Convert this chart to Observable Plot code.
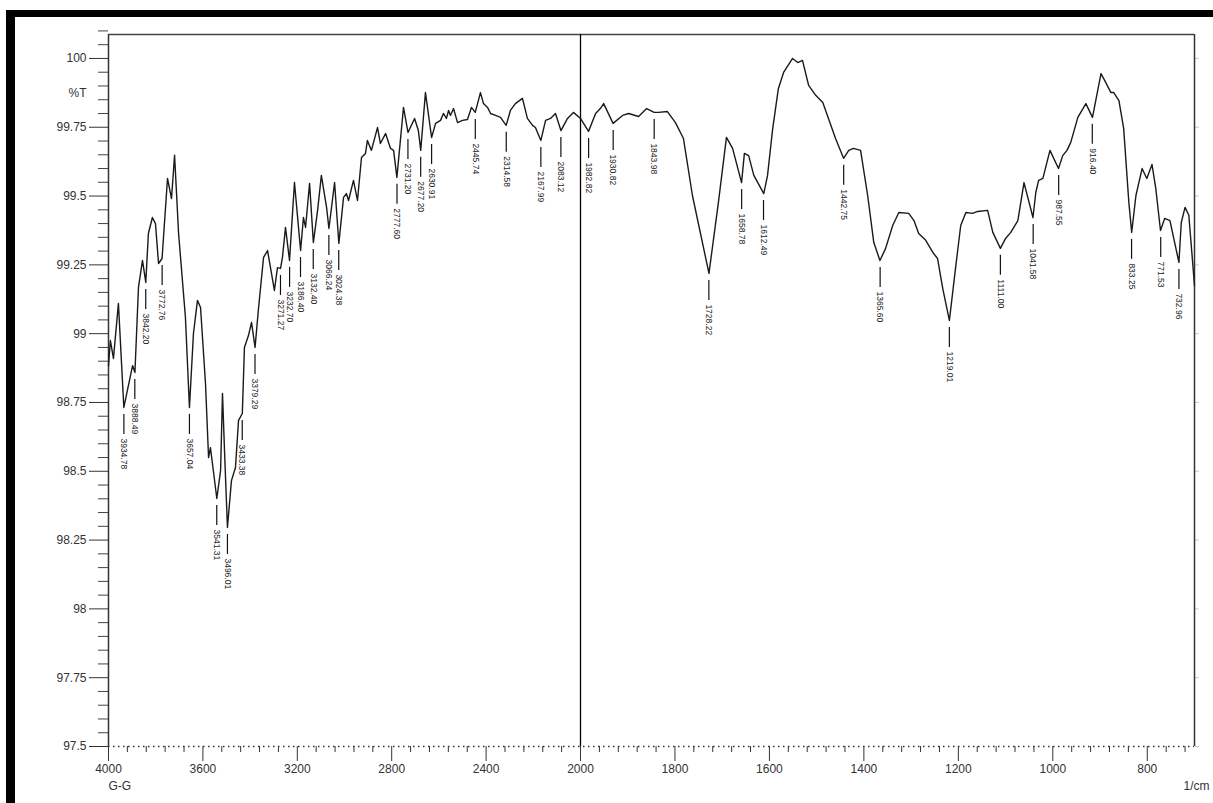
<!DOCTYPE html>
<html><head><meta charset="utf-8">
<script src="https://cdn.jsdelivr.net/npm/d3@7"></script>
<script src="https://cdn.jsdelivr.net/npm/@observablehq/plot@0.6"></script>
<style>
body{margin:0;background:#fff;}
#wrap{position:relative;width:1213px;height:803px;overflow:hidden;background:#fff;}
#chart{position:absolute;left:0;top:0;}
#border{position:absolute;left:6px;top:10px;width:1207px;height:800px;border-top:7px solid #000;border-left:9px solid #000;pointer-events:none;}
</style></head><body>
<div id="wrap"><div id="chart"></div><div id="border"></div></div>
<script>
// Spectrum (wavenumber in 1/cm, %T)
const wavenumber = [4000,3992,3979,3958,3935,3898,3888,3873,3856,3842,3831,3814,3801,3788,3773,3750,3733,3720,3703,3674,3657,3640,3623,3610,3589,3576,3568,3541,3525,3517,3508,3496,3479,3462,3449,3433,3424,3407,3394,3379,3364,3343,3326,3297,3284,3271,3263,3250,3233,3212,3186,3174,3165,3148,3132,3114,3098,3076,3066,3042,3024,3004,2992,2983,2962,2945,2928,2911,2903,2886,2860,2848,2826,2805,2792,2778,2750,2731,2703,2687,2677,2657,2631,2614,2593,2581,2568,2559,2551,2538,2521,2500,2479,2462,2446,2424,2411,2394,2381,2360,2339,2315,2297,2276,2246,2225,2203,2191,2168,2148,2127,2106,2083,2055,2030,2000,1983,1968,1958,1951,1931,1911,1898,1877,1860,1844,1835,1816,1799,1782,1763,1728,1708,1691,1678,1659,1653,1644,1633,1612,1604,1593,1581,1570,1551,1540,1530,1517,1502,1487,1475,1460,1443,1432,1422,1407,1392,1379,1366,1354,1339,1326,1305,1294,1284,1269,1254,1244,1233,1219,1206,1195,1184,1170,1159,1138,1127,1111,1100,1089,1074,1061,1042,1036,1030,1021,1006,988,979,970,962,947,930,916,898,888,877,871,860,850,839,833,824,811,801,790,782,772,763,752,733,728,720,712,700];
const transmittance = [98.884,98.975,98.910,99.110,98.732,98.884,98.859,99.168,99.266,99.186,99.364,99.422,99.400,99.255,99.273,99.564,99.491,99.648,99.364,99.059,98.732,99.001,99.121,99.095,98.819,98.550,98.586,98.401,98.503,98.783,98.565,98.296,98.466,98.514,98.685,98.710,98.950,98.993,99.041,98.950,99.095,99.277,99.302,99.157,99.240,99.237,99.277,99.386,99.266,99.549,99.302,99.422,99.386,99.546,99.331,99.448,99.575,99.459,99.382,99.549,99.328,99.495,99.509,99.484,99.557,99.484,99.640,99.655,99.702,99.666,99.749,99.691,99.727,99.673,99.666,99.568,99.822,99.731,99.782,99.738,99.666,99.876,99.713,99.764,99.775,99.800,99.782,99.811,99.793,99.818,99.767,99.775,99.778,99.822,99.804,99.876,99.836,99.822,99.800,99.793,99.786,99.757,99.811,99.836,99.855,99.782,99.757,99.749,99.702,99.775,99.782,99.800,99.738,99.782,99.804,99.782,99.735,99.800,99.818,99.836,99.764,99.793,99.800,99.789,99.818,99.804,99.804,99.807,99.767,99.709,99.502,99.219,99.477,99.713,99.673,99.549,99.655,99.647,99.575,99.509,99.575,99.746,99.891,99.949,100.000,99.985,99.993,99.902,99.866,99.840,99.782,99.709,99.637,99.666,99.673,99.666,99.502,99.331,99.266,99.310,99.393,99.440,99.437,99.411,99.364,99.339,99.295,99.273,99.164,99.048,99.237,99.393,99.440,99.437,99.444,99.448,99.368,99.310,99.346,99.368,99.411,99.549,99.422,99.513,99.557,99.564,99.666,99.600,99.647,99.666,99.695,99.786,99.836,99.786,99.945,99.913,99.876,99.876,99.847,99.746,99.477,99.368,99.502,99.600,99.564,99.615,99.528,99.375,99.419,99.411,99.259,99.404,99.459,99.430,99.175];

// Peak annotations
const peakLabel = ["3934.78","3888.49","3842.20","3772.76","3657.04","3541.31","3496.01","3433.38","3379.29","3271.27","3232.70","3186.40","3132.40","3066.24","3024.38","2777.60","2731.20","2677.20","2630.91","2445.74","2314.58","2167.99","2083.12","1982.82","1930.82","1843.98","1728.22","1658.78","1612.49","1442.75","1365.60","1219.01","1111.00","1041.58","987.55","916.40","833.25","771.53","732.96"];
const peakTransmittance = [98.732,98.859,99.186,99.273,98.732,98.401,98.296,98.710,98.950,99.237,99.266,99.302,99.331,99.382,99.328,99.568,99.731,99.666,99.713,99.804,99.757,99.702,99.738,99.735,99.764,99.804,99.219,99.549,99.509,99.637,99.266,99.048,99.310,99.422,99.600,99.786,99.368,99.375,99.259];

// Axes
const xTicks = [4000,3600,3200,2800,2400,2000,1800,1600,1400,1200,1000,800];
const xTickLabels = ["4000","3600","3200","2800","2400","2000","1800","1600","1400","1200","1000","800"];
const yTicks = [100,99.75,99.5,99.25,99,98.75,98.5,98.25,98,97.75,97.5];
const yTickLabels = ["100","99.75","99.5","99.25","99","98.75","98.5","98.25","98","97.75","97.5"];
const xDomain = [4000, 2000, 700];
const yMin = 97.5, yMax = 100.087;
const yUnit = "%T", xUnit = "1/cm", sampleName = "G-G";

const spectrum = wavenumber.map((wn, i) => ({wn, t: transmittance[i]}));
const peaks = peakLabel.map((label, i) => ({wn: +label, t: peakTransmittance[i], label}));
const xMinor = d3.range(4000, 2000, -80).concat(d3.range(2000, 700, -40)).filter(v => !xTicks.includes(v));
const yMinor = d3.range(0, 53).map(i => +(97.5 + i * 0.05).toFixed(2)).filter(v => !yTicks.includes(v));

const font = "'Liberation Sans', Arial, sans-serif";
const chart = Plot.plot({
  width: 1213, height: 803,
  marginLeft: 108, marginRight: 19, marginTop: 34, marginBottom: 57,
  style: {background: "transparent", fontFamily: font, fontSize: "12px", color: "#333"},
  x: {type: "linear", domain: xDomain, range: [108, 580, 1194]},
  y: {domain: [yMin, yMax]},
  marks: [
    Plot.axisY({ticks: yMinor, tickSize: 10, tickFormat: () => "", anchor: "left", label: null, stroke: "#444"}),
    Plot.axisY({ticks: yTicks, tickSize: 19, tickPadding: 3, tickFormat: d => yTickLabels[yTicks.indexOf(d)], anchor: "left", label: null, stroke: "#333", fill: "#333", fontSize: 12}),
    Plot.axisY({ticks: yTicks, tickSize: 4, tickFormat: () => "", anchor: "right", label: null, stroke: "#ccc"}),
    Plot.axisX({ticks: xMinor, tickSize: 6, tickFormat: () => "", anchor: "bottom", label: null, stroke: "#333"}),
    Plot.axisX({ticks: xTicks, tickSize: 15, tickPadding: 3, tickFormat: d => xTickLabels[xTicks.indexOf(d)], anchor: "bottom", label: null, stroke: "#333", fill: "#333", fontSize: 12}),
    Plot.ruleY([yMax], {stroke: "#444", strokeWidth: 1.5}),
    Plot.ruleX([xDomain[0], xDomain[2]], {stroke: "#333", strokeWidth: 1.5}),
    Plot.ruleY([yMin], {stroke: "#333", strokeWidth: 1.3, strokeDasharray: "1.5,3.5"}),
    Plot.ruleX([2000], {stroke: "#000", strokeWidth: 1.3}),
    Plot.line(spectrum, {x: "wn", y: "t", stroke: "#1a1a1a", strokeWidth: 1.4}),
    Plot.ruleX(peaks, {x: "wn", y1: "t", y2: "t", insetTop: 7, insetBottom: -27, stroke: "#111", strokeWidth: 1.2}),
    Plot.text(peaks, {x: "wn", y: "t", text: "label", rotate: 90, textAnchor: "start", dy: 31, fontSize: 8.5, fill: "#222"}),
    Plot.text([yUnit], {x: xDomain[0], y: 99.875, text: d => d, dx: -22, textAnchor: "end", fontSize: 12, fill: "#333"}),
    Plot.text([sampleName], {x: xDomain[0], y: yMin, text: d => d, dy: 40, dx: 0, textAnchor: "start", fontSize: 12, fill: "#333"}),
    Plot.text([xUnit], {x: xDomain[2], y: yMin, text: d => d, dy: 40, dx: 15, textAnchor: "end", fontSize: 12, fill: "#333"})
  ]
});
document.getElementById("chart").append(chart);
</script>
</body></html>
